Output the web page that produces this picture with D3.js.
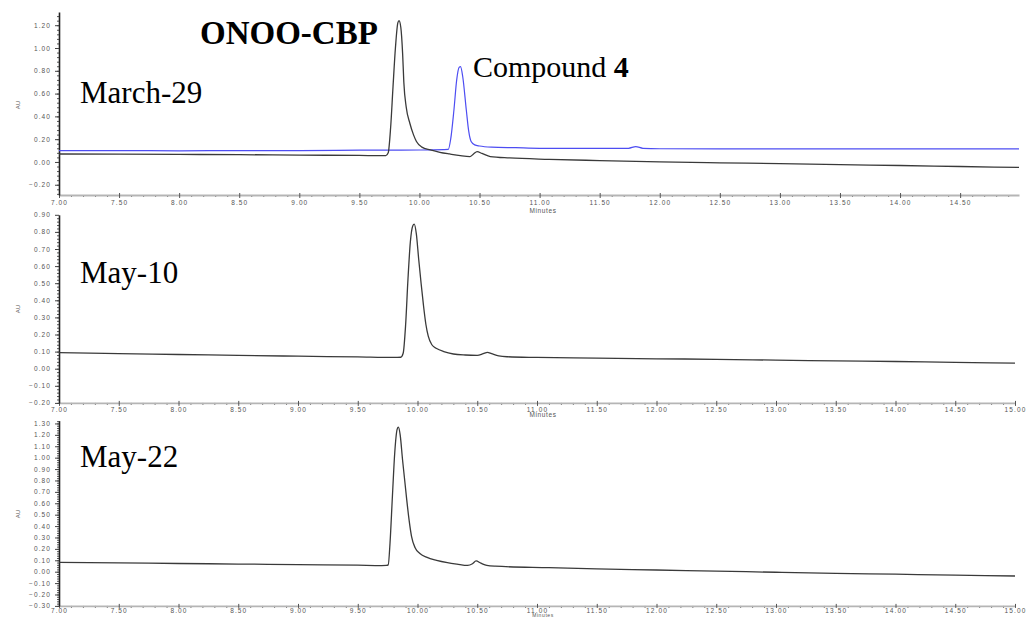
<!DOCTYPE html>
<html><head><meta charset="utf-8">
<script src="https://cdn.jsdelivr.net/npm/d3@7"></script>
<style>
html,body{margin:0;padding:0;background:#fff;}
svg{display:block;}
.tick text{font-family:Arial,"Liberation Sans",sans-serif;font-size:6.5px;fill:#555;letter-spacing:1.1px;}
.lbl{font-family:"Liberation Serif","Times New Roman",serif;fill:#000;}
</style></head>
<body>
<script>
// ---------- DATA ----------
const panelNames = ["March-29", "May-10", "May-22"];
const peakLabels = ["ONOO-CBP", "Compound ", "4"];

const xTicks1 = [7.0,7.5,8.0,8.5,9.0,9.5,10.0,10.5,11.0,11.5,12.0,12.5,13.0,13.5,14.0,14.5];
const xTicks23 = [7.0,7.5,8.0,8.5,9.0,9.5,10.0,10.5,11.0,11.5,12.0,12.5,13.0,13.5,14.0,14.5,15.0];
const yTicks1 = [-0.2,0.0,0.2,0.4,0.6,0.8,1.0,1.2];
const yTicks2 = [-0.2,-0.1,0.0,0.1,0.2,0.3,0.4,0.5,0.6,0.7,0.8,0.9];
const yTicks3 = [-0.3,-0.2,-0.1,0.0,0.1,0.2,0.3,0.4,0.5,0.6,0.7,0.8,0.9,1.0,1.1,1.2,1.3];

// March-29, ONOO-CBP (black trace)
const marBlackT = [7.00,7.50,8.00,8.50,9.00,9.50,9.70,9.72,9.74,9.76,9.78,9.80,9.82,9.83,9.845,9.86,9.87,9.89,9.92,9.95,9.975,10.02,10.09,10.17,10.25,10.34,10.42,10.45,10.48,10.52,10.59,10.75,11.08,11.50,12.00,12.50,13.00,13.50,14.00,14.50,14.99];
const marBlackV = [0.070,0.068,0.066,0.064,0.060,0.057,0.055,0.055,0.08,0.30,0.66,1.00,1.22,1.24,1.18,0.95,0.70,0.48,0.34,0.24,0.18,0.13,0.105,0.085,0.07,0.055,0.047,0.07,0.09,0.075,0.047,0.035,0.023,0.012,0.000,-0.008,-0.015,-0.024,-0.031,-0.040,-0.048];
// March-29, Compound 4 (blue trace)
const marBlueT = [7.00,7.50,8.00,8.50,9.00,9.50,10.00,10.20,10.24,10.26,10.287,10.31,10.33,10.342,10.36,10.39,10.41,10.43,10.46,10.50,10.60,10.80,11.00,11.50,11.74,11.80,11.86,12.00,12.50,13.00,13.50,14.00,14.50,14.99];
const marBlueV = [0.100,0.100,0.098,0.100,0.100,0.103,0.105,0.108,0.11,0.20,0.456,0.72,0.83,0.836,0.75,0.456,0.27,0.18,0.15,0.14,0.13,0.125,0.12,0.12,0.12,0.135,0.12,0.116,0.115,0.115,0.115,0.115,0.115,0.115];
// May-10 (black trace)
const may10T = [7.00,7.50,8.00,8.50,9.00,9.50,9.80,9.86,9.88,9.90,9.92,9.94,9.96,9.973,9.99,10.01,10.03,10.05,10.07,10.09,10.12,10.16,10.22,10.30,10.40,10.50,10.55,10.585,10.62,10.68,10.75,11.00,11.50,12.00,12.50,13.00,13.50,14.00,14.50,15.00];
const may10V = [0.094,0.088,0.083,0.078,0.073,0.069,0.066,0.067,0.09,0.25,0.52,0.74,0.835,0.846,0.79,0.64,0.50,0.37,0.26,0.19,0.14,0.118,0.10,0.086,0.080,0.078,0.088,0.096,0.088,0.075,0.070,0.066,0.062,0.058,0.055,0.050,0.046,0.042,0.037,0.033];
// May-22 (black trace)
const may22T = [7.00,7.50,8.00,8.50,9.00,9.50,9.70,9.74,9.755,9.77,9.79,9.81,9.83,9.84,9.855,9.875,9.895,9.91,9.93,9.95,9.98,10.02,10.08,10.16,10.25,10.33,10.42,10.46,10.49,10.53,10.58,10.65,11.10,11.50,12.00,12.50,13.00,13.50,14.00,14.50,15.00];
const may22V = [0.082,0.077,0.072,0.067,0.062,0.057,0.054,0.055,0.06,0.25,0.66,1.05,1.25,1.267,1.20,0.98,0.78,0.63,0.45,0.31,0.21,0.16,0.125,0.10,0.08,0.067,0.055,0.07,0.094,0.075,0.055,0.048,0.035,0.025,0.015,0.005,-0.005,-0.015,-0.022,-0.030,-0.038];

// ---------- LAYOUT ----------
const W = 1035, H = 617;
const svg = d3.select("body").append("svg").attr("width", W).attr("height", H);

const panels = [
  {xDom:[7,14.99], xR:[59,1019], yDom:[-0.29,1.316], yR:[195,12], xt:xTicks1, yt:yTicks1, yMinorStep:0.04,
   traces:[{t:marBlueT,v:marBlueV,c:"#4d4df2",w:1.2},{t:marBlackT,v:marBlackV,c:"#3a3a3a",w:1.3}],
   name:panelNames[0], nameY:103, auY:105, minY:213, minFs:6.5, lblPad:2, tk:3},
  {xDom:[7,15], xR:[59,1015], yDom:[-0.2,0.9], yR:[402.9,214.8], xt:xTicks23, yt:yTicks2, yMinorStep:0.02,
   traces:[{t:may10T,v:may10V,c:"#3a3a3a",w:1.3}],
   name:panelNames[1], nameY:283, auY:309, minY:417, minFs:6.5, lblPad:1, tk:3},
  {xDom:[7,15], xR:[59,1015], yDom:[-0.3,1.325], yR:[605.9,420.6], xt:xTicks23, yt:yTicks3, yMinorStep:0.02,
   traces:[{t:may22T,v:may22V,c:"#3a3a3a",w:1.3}],
   name:panelNames[2], nameY:467, auY:514, minY:617, minFs:5, lblPad:0, tk:2}
];

const fmt = d3.format(".2f");

panels.forEach((p, i) => {
  const x = d3.scaleLinear().domain(p.xDom).range(p.xR);
  const y = d3.scaleLinear().domain(p.yDom).range(p.yR);
  const g = svg.append("g");
  const clipId = "clip" + i;
  svg.append("clipPath").attr("id", clipId).append("rect")
    .attr("x", p.xR[0]).attr("y", p.yR[1]).attr("width", p.xR[1]-p.xR[0]).attr("height", p.yR[0]-p.yR[1]);

  // x axis minor ticks
  const xMinor = d3.range(p.xDom[0], p.xDom[1] + 1e-6, 0.1).filter(v => Math.abs(v*2 - Math.round(v*2)) > 1e-6);
  const xMinorAx = g.append("g").attr("transform", `translate(0,${p.yR[0]})`)
    .call(d3.axisBottom(x).tickValues(xMinor).tickSize(2).tickFormat(""));
  xMinorAx.select(".domain").remove();
  xMinorAx.selectAll(".tick line").attr("stroke", "#666");
  // x axis major
  const xAx = g.append("g").attr("transform", `translate(0,${p.yR[0]})`)
    .call(d3.axisBottom(x).tickValues(p.xt).tickSize(p.tk).tickSizeOuter(0).tickPadding(p.lblPad).tickFormat(fmt));
  xAx.select(".domain").attr("stroke", "#b5b5b5").attr("stroke-width", 1.8);
  xAx.selectAll(".tick line").attr("stroke", "#555").attr("y1", -2);

  // y axis minor
  const yMinor = d3.range(Math.ceil(p.yDom[0]/p.yMinorStep)*p.yMinorStep, p.yDom[1], p.yMinorStep);
  const yMinorAx = g.append("g").attr("transform", `translate(${p.xR[0]},0)`)
    .call(d3.axisLeft(y).tickValues(yMinor).tickSize(2).tickFormat(""));
  yMinorAx.select(".domain").remove();
  yMinorAx.selectAll(".tick line").attr("stroke", "#555");
  // y axis major
  const yAx = g.append("g").attr("transform", `translate(${p.xR[0]},0)`)
    .call(d3.axisLeft(y).tickValues(p.yt).tickSize(4).tickSizeOuter(0).tickPadding(4).tickFormat(fmt));
  yAx.select(".domain").attr("stroke", "#222").attr("stroke-width", 1.6);
  yAx.selectAll(".tick line").attr("stroke", "#444");

  // traces
  const line = d3.line().x(d => x(d[0])).y(d => y(d[1])).curve(d3.curveMonotoneX);
  p.traces.forEach(tr => {
    const pts = tr.t.map((t, k) => [t, tr.v[k]]);
    g.append("path").datum(pts).attr("d", line).attr("fill", "none")
      .attr("stroke", tr.c).attr("stroke-width", tr.w).attr("stroke-linejoin", "round")
      .attr("clip-path", `url(#${clipId})`);
  });

  // AU label
  svg.append("text").attr("transform", `translate(20,${p.auY}) rotate(-90)`)
    .attr("text-anchor", "middle").attr("font-family", "Arial, sans-serif").attr("font-size", 6)
    .attr("fill", "#555").text("AU");
  // Minutes label
  svg.append("text").attr("x", 543).attr("y", p.minY).attr("text-anchor", "middle")
    .attr("font-family", "Arial, sans-serif").attr("font-size", p.minFs).attr("letter-spacing", 0.6)
    .attr("fill", "#555").text("Minutes");
  // panel name
  svg.append("text").attr("class", "lbl").attr("x", 80).attr("y", p.nameY)
    .attr("font-size", 31).text(p.name);
});

// peak labels
svg.append("text").attr("class", "lbl").attr("x", 200).attr("y", 43.5)
  .attr("font-size", 33).attr("font-weight", "bold").text(peakLabels[0]);
const cmp = svg.append("text").attr("class", "lbl").attr("x", 473).attr("y", 77).attr("font-size", 30);
cmp.append("tspan").text(peakLabels[1]);
cmp.append("tspan").attr("font-weight", "bold").text(peakLabels[2]);
</script>
</body></html>
